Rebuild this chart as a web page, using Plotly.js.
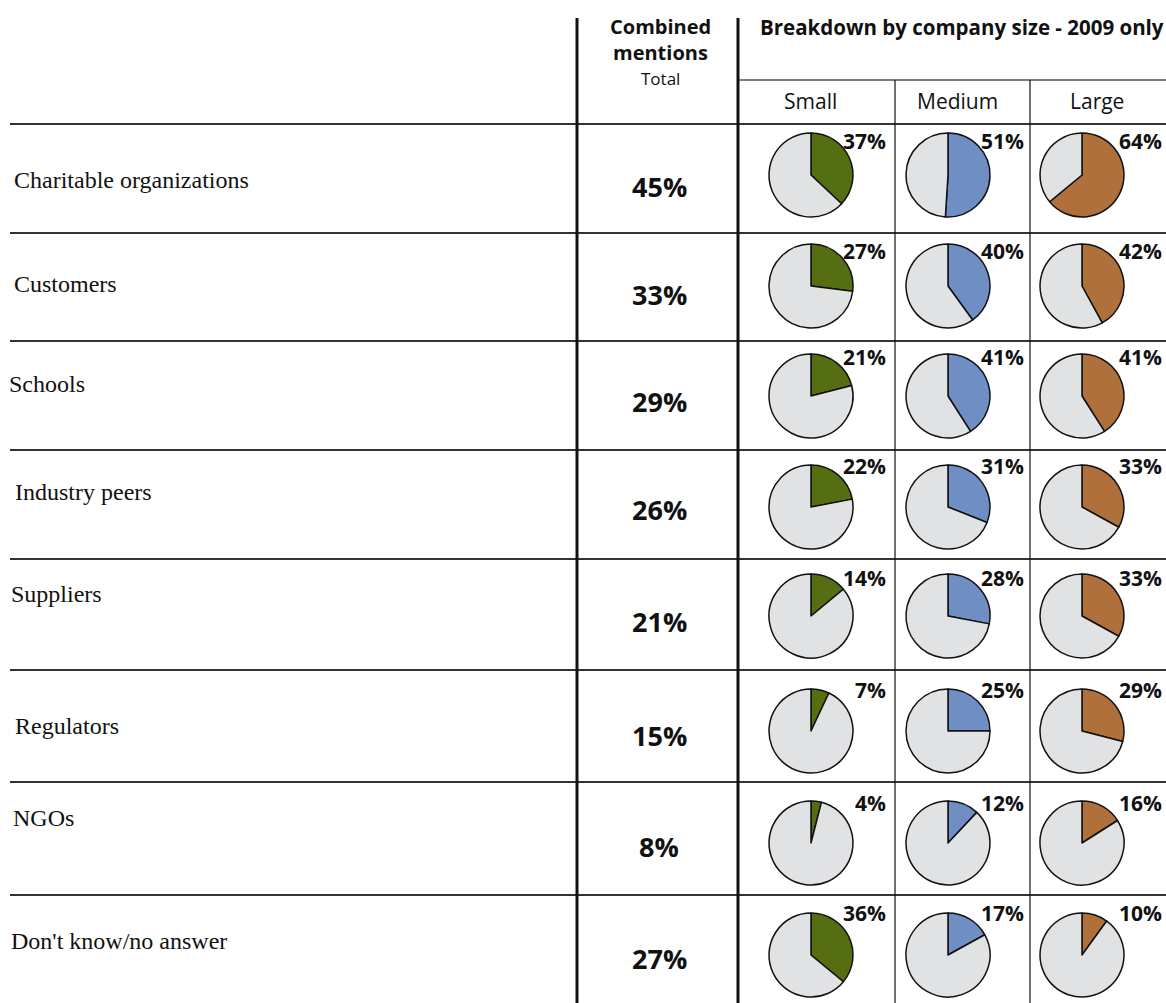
<!DOCTYPE html>
<html>
<head>
<meta charset="utf-8">
<script src="https://cdn.plot.ly/plotly-3.0.1.min.js"></script>
<style>html,body{margin:0;padding:0;background:#fff;}#chart{width:1166px;height:1003px;}</style>
</head>
<body>
<div id="chart"></div>
<script>
// ---- data ----
const categories = ["Charitable organizations", "Customers", "Schools", "Industry peers", "Suppliers", "Regulators", "NGOs", "Don't know/no answer"];
const totalMentions = [45, 33, 29, 26, 21, 15, 8, 27];
const smallCo = [37, 27, 21, 22, 14, 7, 4, 36];
const mediumCo = [51, 40, 41, 31, 28, 25, 12, 17];
const largeCo = [64, 42, 41, 33, 33, 29, 16, 10];
const sizeLabels = ["Small", "Medium", "Large"];

// ---- layout geometry (pixels) ----
const W = 1166, H = 1003;
const rowLines = [124, 233, 341, 450, 559, 670, 782, 895];
const pieCY = [175, 286, 396, 507, 616, 731, 843, 955];
const pctY = [141, 251, 357, 466, 578, 690, 803, 913];
const totY = [186, 294, 401, 509, 621, 735, 846, 958];
const labY = [180, 284, 384, 492, 594, 726, 818, 941];
const labX = [12, 12, 7, 13, 9, 13, 11, 9];
const pieCX = [811, 948, 1082];
const pctRight = [888, 1026, 1164];
const colCenters = [810, 957, 1097];
const R = 42;
const colors = ["#566e12", "#6f8fc4", "#b0703b"];
const grey = "#e1e2e4";
const series = [smallCo, mediumCo, largeCo];

const traces = [];
const annotations = [];
const shapes = [];

series.forEach((vals, c) => {
  vals.forEach((v, r) => {
    const cx = pieCX[c], cy = pieCY[r];
    traces.push({
      type: "pie",
      values: [v, 100 - v],
      labels: [sizeLabels[c] + " yes", sizeLabels[c] + " other"],
      sort: false,
      direction: "clockwise",
      rotation: 0,
      textinfo: "none",
      hoverinfo: "none",
      showlegend: false,
      marker: {colors: [colors[c], grey], line: {color: "#111", width: 1.5}},
      domain: {x: [(cx - R) / W, (cx + R) / W], y: [1 - (cy + R) / H, 1 - (cy - R) / H]}
    });
    annotations.push({
      x: pctRight[c], y: pctY[r], xref: "x", yref: "y", xanchor: "right", yanchor: "middle",
      text: "<b>" + v + "%</b>", showarrow: false,
      font: {family: "Open Sans", size: 21, color: "#111"}
    });
  });
});

categories.forEach((cat, r) => {
  annotations.push({
    x: labX[r], y: labY[r], xref: "x", yref: "y", xanchor: "left", yanchor: "middle",
    text: cat, showarrow: false, font: {family: "Liberation Serif", size: 24, color: "#111"}
  });
  annotations.push({
    x: 659, y: totY[r], xref: "x", yref: "y", xanchor: "center", yanchor: "middle",
    text: "<b>" + totalMentions[r] + "%</b>", showarrow: false,
    font: {family: "Open Sans", size: 27, color: "#111"}
  });
  shapes.push({type: "line", xref: "x", yref: "y", x0: 10, x1: W, y0: rowLines[r], y1: rowLines[r], line: {color: "#333", width: 2}});
});

// headers
annotations.push({x: 660, y: 26, xref: "x", yref: "y", text: "<b>Combined</b>", showarrow: false, font: {family: "Open Sans", size: 20, color: "#111"}});
annotations.push({x: 660, y: 52, xref: "x", yref: "y", text: "<b>mentions</b>", showarrow: false, font: {family: "Open Sans", size: 20, color: "#111"}});
annotations.push({x: 660, y: 78, xref: "x", yref: "y", text: "Total", showarrow: false, font: {family: "Open Sans", size: 17, color: "#111"}});
annotations.push({x: 758, y: 27, xref: "x", yref: "y", xanchor: "left", text: "<b>Breakdown by company size - 2009 only</b>", showarrow: false, font: {family: "Open Sans", size: 20.5, color: "#111"}});
sizeLabels.forEach((s, c) => {
  annotations.push({x: colCenters[c], y: 101, xref: "x", yref: "y", text: s, showarrow: false, font: {family: "Open Sans", size: 21, color: "#111"}});
});

// grid lines
shapes.push({type: "line", xref: "x", yref: "y", x0: 577, x1: 577, y0: 18, y1: H, line: {color: "#111", width: 3}});
shapes.push({type: "line", xref: "x", yref: "y", x0: 738, x1: 738, y0: 18, y1: H, line: {color: "#111", width: 3}});
shapes.push({type: "line", xref: "x", yref: "y", x0: 739, x1: W, y0: 80, y1: 80, line: {color: "#555", width: 1.5}});
shapes.push({type: "line", xref: "x", yref: "y", x0: 895, x1: 895, y0: 80, y1: H, line: {color: "#111", width: 1.2}});
shapes.push({type: "line", xref: "x", yref: "y", x0: 1030, x1: 1030, y0: 80, y1: H, line: {color: "#111", width: 1.2}});

const layout = {
  width: W, height: H,
  margin: {l: 0, r: 0, t: 0, b: 0},
  paper_bgcolor: "#fff", plot_bgcolor: "#fff",
  xaxis: {range: [0, W], visible: false, fixedrange: true},
  yaxis: {range: [H, 0], visible: false, fixedrange: true},
  showlegend: false,
  annotations: annotations,
  shapes: shapes
};

Plotly.newPlot("chart", traces, layout, {staticPlot: true, displayModeBar: false});
</script>
</body>
</html>
